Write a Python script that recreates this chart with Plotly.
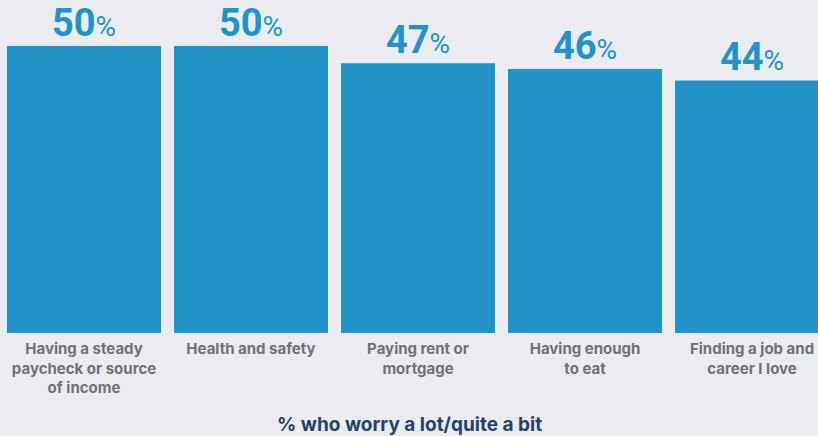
import plotly.graph_objects as go

categories = ["Having a steady<br>paycheck or source<br>of income", "Health and safety",
              "Paying rent or<br>mortgage", "Having enough<br>to eat", "Finding a job and<br>career I love"]
values = [50, 50, 47, 46, 44]
title_text = "% who worry a lot/quite a bit"

BG = "#ebecf0"
BLUE = "#2193c9"
xs = list(range(len(values)))

fig = go.Figure()
fig.add_trace(go.Bar(x=xs, y=values, width=0.922, marker=dict(color=BLUE, line=dict(width=0)),
                     hoverinfo="skip"))

for x, v in zip(xs, values):
    fig.add_annotation(x=x, y=v, xref="x", yref="y", yanchor="bottom", yshift=-1,
                       text=f"<b>{v}</b><span style='font-size:28px'>%</span>",
                       showarrow=False, font=dict(family="Roboto", size=38, color=BLUE))

fig.add_annotation(x=0.5, xref="paper", y=-0.276, yref="paper", yanchor="middle",
                   text=f"<b>{title_text}</b>", showarrow=False,
                   font=dict(family="Inter", size=19, color="#1d4370"))

fig.update_layout(
    width=818, height=436, margin=dict(l=0, r=0, t=0, b=103),
    paper_bgcolor=BG, plot_bgcolor=BG, showlegend=False,
    xaxis=dict(range=[-0.503, 4.395], tickvals=xs, ticktext=categories, showgrid=False,
               zeroline=False, showline=False, ticks="", ticklen=0, ticklabelstandoff=5,
               tickfont=dict(family="Inter", size=15, color="#717275", weight="bold")),
    yaxis=dict(range=[0, 58.0], visible=False, showgrid=False, zeroline=False),
)

fig.write_html("out.html")
